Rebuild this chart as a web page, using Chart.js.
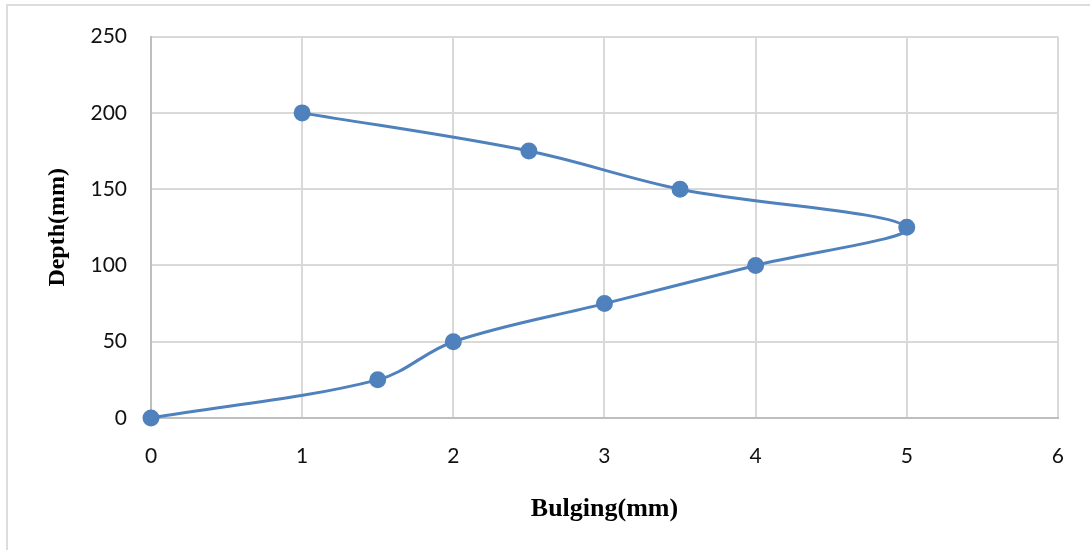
<html>
<head>
  <script src="https://cdn.jsdelivr.net/npm/chart.js"></script>
  <style>
    html, body { margin: 0; width: 1090px; height: 550px; overflow: hidden; background: #fff; }
    .frame { position: absolute; left: 6px; top: 4px; width: 1200px; height: 700px; border: 2px solid #dcdcdc; }
    .graph { position: absolute; left: 0; top: 0; width: 1090px; height: 550px; }
  </style>
</head>
<body>
  <div class="frame"></div>
  <div class="graph"><canvas id="graph-canvas" width="1090" height="550"></canvas></div>
  <script>
    // bulging (mm) against depth (mm)
    const bulging = [0, 1.5, 2, 3, 4, 5, 3.5, 2.5, 1];
    const depth = [0, 25, 50, 75, 100, 125, 150, 175, 200];
    const xTitle = 'Bulging(mm)';
    const yTitle = 'Depth(mm)';

    const points = bulging.map((b, i) => ({x: b, y: depth[i]}));
    const tickFont = {family: 'Lato', size: 21};

    new Chart(document.getElementById('graph-canvas'), {
      type: 'scatter',
      data: {
        datasets: [{
          data: points,
          showLine: true,
          tension: 0.35,
          borderColor: '#4f81bd',
          backgroundColor: '#4f81bd',
          borderWidth: 3,
          pointRadius: 7,
          pointHoverRadius: 7,
          clip: false,
        }],
      },
      options: {
        responsive: false,
        animation: false,
        layout: {padding: {left: 8, top: 30, right: 32, bottom: 0}},
        plugins: {legend: {display: false}, tooltip: {enabled: false}},
        scales: {
          x: {
            min: 0, max: 6,
            ticks: {stepSize: 1, color: '#111', font: tickFont, padding: 26},
            grid: {color: '#d9d9d9', lineWidth: 2, drawTicks: false},
            border: {color: '#bfbfbf', width: 2},
            title: {display: true, text: xTitle, color: '#000', font: {family: '"Liberation Serif"', size: 26, weight: 'bold'}, padding: {top: 0, bottom: 25}},
            afterFit: (s) => { s.height = 132; },
          },
          y: {
            min: 0, max: 250,
            ticks: {stepSize: 50, color: '#111', font: tickFont, padding: 24},
            grid: {color: '#d9d9d9', lineWidth: 2, drawTicks: false},
            border: {color: '#bfbfbf', width: 2},
            title: {display: true, text: yTitle, color: '#000', font: {family: '"Liberation Serif"', size: 24, weight: 'bold'}, padding: {top: 35, bottom: 0}},
            afterFit: (s) => { s.width = 143; },
          },
        },
      },
    });
  </script>
</body>
</html>
